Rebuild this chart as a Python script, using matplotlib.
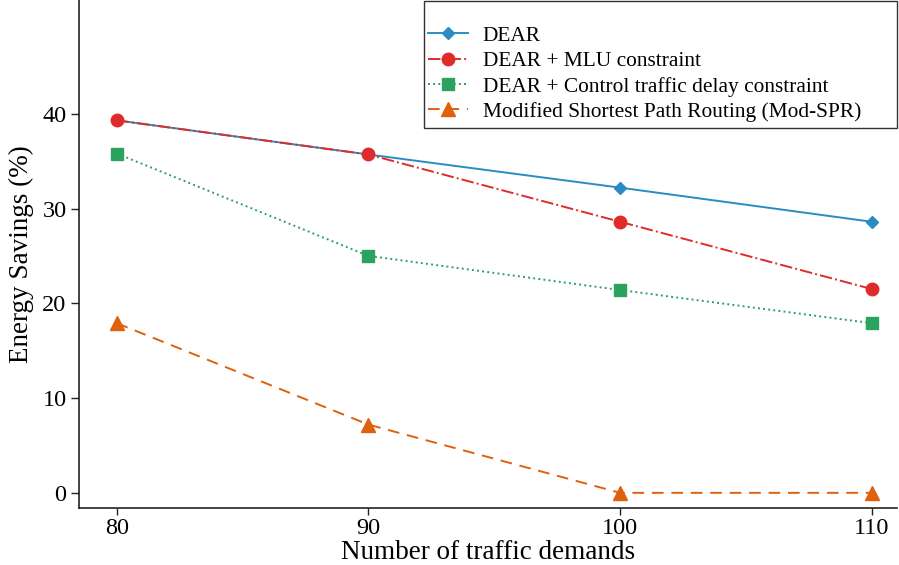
import matplotlib
matplotlib.use("Agg")
import matplotlib.pyplot as plt
from matplotlib.patches import Rectangle

plt.rcParams['font.family'] = ['Liberation Serif', 'DejaVu Serif']
plt.rcParams['mathtext.fontset'] = 'stix'

x = [80, 90, 100, 110]
dear = [39.3, 35.7, 32.2, 28.6]
dear_mlu = [39.3, 35.7, 28.6, 21.5]
dear_ctrl = [35.8, 25.0, 21.4, 17.9]
mod_spr = [17.9, 7.2, 0.0, 0.0]

labels = ["DEAR", "DEAR + MLU constraint",
          "DEAR + Control traffic delay constraint",
          "Modified Shortest Path Routing (Mod-SPR)"]

W, H = 899, 565
fig = plt.figure(figsize=(W / 100, H / 100), dpi=100)
ax = fig.add_axes([79 / W, 1 - 508 / H, (897 - 79) / W, 508 / H])

ax.plot(x, dear, color='#2b8cc4', linestyle='-', marker='D', markersize=6, lw=1.4, label=labels[0])
ax.plot(x, dear_mlu, color='#e02b2b', linestyle='-.', marker='o', markersize=9, lw=1.4, label=labels[1])
ax.plot(x, dear_ctrl, color='#2ca25f', linestyle=':', marker='s', markersize=9, lw=1.4, label=labels[2])
ax.plot(x, mod_spr, color='#e0600e', linestyle=(0, (6, 4)), marker='^', markersize=10, lw=1.4, label=labels[3])

ax.set_xlim(78.5, 111)
ax.set_ylim(-1.6, 52)
ax.set_xticks(x)
ax.set_yticks([0, 10, 20, 30, 40])
ax.tick_params(direction='out', length=6, width=1, labelsize=17.5, colors='#222222', labelcolor='black', pad=3)
ax.tick_params(axis='x', length=5, pad=2)
for s in ['top', 'right']:
    ax.spines[s].set_visible(False)
for s in ['left', 'bottom']:
    ax.spines[s].set_color('#222222')
    ax.spines[s].set_linewidth(1.2)

ax.set_xlabel("Number of traffic demands", fontsize=19.5, labelpad=1)
ax.set_ylabel("Energy Savings (%)", fontsize=19.5, labelpad=6)

leg = fig.legend(*ax.get_legend_handles_labels(), loc='upper left',
                 bbox_to_anchor=(428 / W, 1 - 26 / H), bbox_transform=fig.transFigure,
                 borderaxespad=0, borderpad=0, frameon=False,
                 fontsize=15.4, handlelength=1.85, handletextpad=0.7, labelspacing=0.25)

fig.patches.append(Rectangle((424 / W, 1 - 128 / H), 473 / W, 127 / H,
                             transform=fig.transFigure, fill=False,
                             edgecolor='#333333', linewidth=1.0, zorder=5))

fig.savefig("out.png", dpi=100)
